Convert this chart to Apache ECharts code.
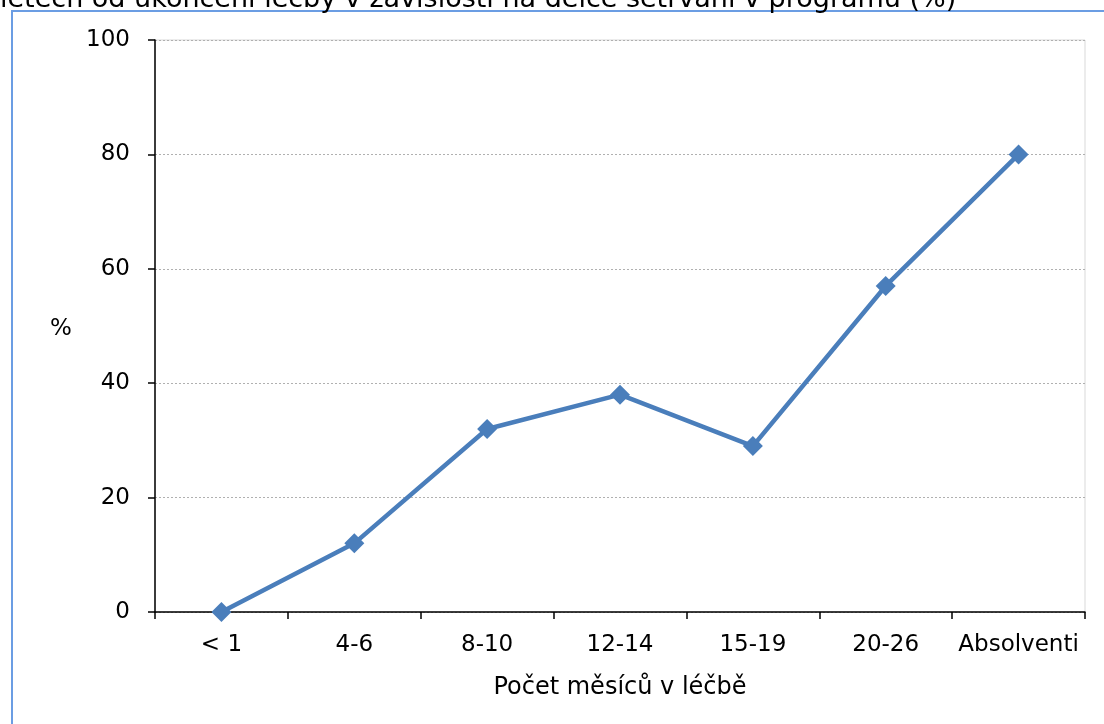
<!DOCTYPE html>
<html>
<head>
<meta charset="utf-8">
<script src="https://cdn.jsdelivr.net/npm/echarts@6/dist/echarts.min.js"></script>
<style>html,body{margin:0;padding:0;background:#fff;}#c{width:1104px;height:724px;}</style>
</head>
<body>
<div id="c"></div>
<script>
var categories = ['< 1', '4-6', '8-10', '12-14', '15-19', '20-26', 'Absolventi'];
var values = [0, 12, 32, 38, 29, 57, 80];
var yTicks = [0, 20, 40, 60, 80, 100];
var titleText = 'letech od ukončení léčby v závislosti na délce setrvání v programu (%)';
var xName = 'Počet měsíců v léčbě';
var yName = '%';

var font = 'DejaVu Sans';
var chart = echarts.init(document.getElementById('c'), null, {renderer: 'canvas'});
chart.setOption({
  animation: false,
  backgroundColor: '#fff',
  grid: {left: 155, right: 19, top: 40, bottom: 112, show: true, borderColor: '#d9d9d9', borderWidth: 1, backgroundColor: 'transparent'},
  graphic: [
    {type: 'rect', shape: {x: 12, y: 11, width: 1200, height: 800}, style: {fill: 'none', stroke: '#6b9de3', lineWidth: 2}, z: 0},
    {type: 'text', x: 0, y: -14, style: {text: titleText, font: '27px "DejaVu Sans"', fill: '#000', textVerticalAlign: 'top'}},
    {type: 'text', x: 61, y: 329, style: {text: yName, font: '23px "DejaVu Sans"', fill: '#000', textAlign: 'center', textVerticalAlign: 'middle'}}
  ],
  xAxis: {
    type: 'category', data: categories, boundaryGap: true,
    name: xName, nameLocation: 'middle', nameGap: 64, nameMoveOverlap: false,
    nameTextStyle: {fontFamily: font, fontSize: 24, color: '#000'},
    axisLine: {lineStyle: {color: '#000', width: 1.5}},
    axisTick: {show: true, length: 7, inside: false, alignWithLabel: false, lineStyle: {color: '#000', width: 1.5}},
    axisLabel: {fontFamily: font, fontSize: 23, color: '#000', margin: 22, interval: 0},
    splitLine: {show: false}
  },
  yAxis: {
    type: 'value', min: 0, max: 100, interval: 20,
    axisLine: {show: true, lineStyle: {color: '#000', width: 1.5}},
    axisTick: {show: true, length: 7, lineStyle: {color: '#000', width: 1.5}},
    axisLabel: {fontFamily: font, fontSize: 23, color: '#000', margin: 25,
      formatter: function (v) { return yTicks.indexOf(v) >= 0 ? String(v) : ''; }},
    splitLine: {show: true, lineStyle: {color: '#b0b0b0', type: [2, 2], width: 1}}
  },
  series: [{
    type: 'line', data: values,
    lineStyle: {color: '#4a7ebb', width: 4.5},
    itemStyle: {color: '#4a7ebb'},
    symbol: 'diamond', symbolSize: 20, showSymbol: true
  }]
});
</script>
</body>
</html>
